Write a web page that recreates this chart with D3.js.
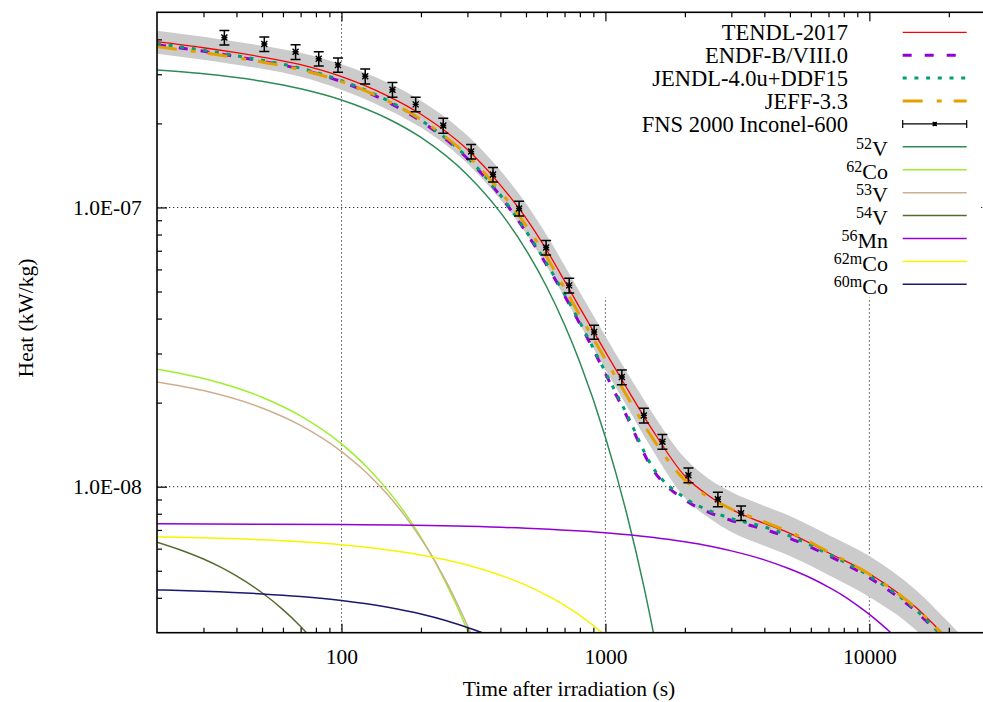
<!DOCTYPE html>
<html>
<head>
<meta charset="utf-8">
<script src="https://cdn.jsdelivr.net/npm/d3@7"></script>
<style>
  html, body { margin: 0; padding: 0; background: #fff; }
  svg { display: block; }
  text { font-family: "Liberation Serif", "Times New Roman", Times, serif; fill: #000; }
</style>
</head>
<body>
<svg id="chart" width="983" height="702" font-family="Liberation Serif, Times New Roman, Times, serif"></svg>
<script>
// ---- Calculated decay heat of Inconel-600 (kW/kg) versus cooling time (s) ----
const times = [20, 30, 40, 50, 70, 100, 150, 200, 300, 400, 500, 600, 700, 800, 1000, 1200, 1500,
               2000, 2500, 3000, 4000, 5000, 7000, 10000, 15000, 20000, 25000];

const tendl = [3.923e-7, 3.733e-7, 3.583e-7, 3.458e-7, 3.245e-7, 2.941e-7, 2.506e-7, 2.158e-7, 1.612e-7,
               1.203e-7, 9.16e-8, 7.02e-8, 5.46e-8, 4.37e-8, 3.04e-8, 2.27e-8, 1.608e-8, 1.092e-8,
               9.19e-9, 8.29e-9, 7.39e-9, 6.81e-9, 5.80e-9, 4.88e-9, 3.70e-9, 2.83e-9, 2.30e-9];
const endf = [3.826e-7, 3.626e-7, 3.467e-7, 3.341e-7, 3.127e-7, 2.822e-7, 2.385e-7, 2.037e-7, 1.497e-7,
              1.099e-7, 8.16e-8, 6.20e-8, 4.83e-8, 3.83e-8, 2.54e-8, 1.80e-8, 1.167e-8, 8.96e-9,
              8.05e-9, 7.57e-9, 7.04e-9, 6.53e-9, 5.66e-9, 4.72e-9, 3.58e-9, 2.74e-9, 2.23e-9];
const jendl = [3.858e-7, 3.656e-7, 3.494e-7, 3.368e-7, 3.153e-7, 2.845e-7, 2.413e-7, 2.055e-7, 1.509e-7,
               1.108e-7, 8.24e-8, 6.28e-8, 4.89e-8, 3.88e-8, 2.57e-8, 1.834e-8, 1.186e-8, 9.11e-9,
               8.18e-9, 7.69e-9, 7.18e-9, 6.66e-9, 5.74e-9, 4.79e-9, 3.62e-9, 2.76e-9, 2.25e-9];
const jeff = [3.764e-7, 3.583e-7, 3.438e-7, 3.318e-7, 3.114e-7, 2.822e-7, 2.405e-7, 2.064e-7, 1.535e-7,
              1.141e-7, 8.62e-8, 6.63e-8, 5.13e-8, 4.11e-8, 2.86e-8, 2.13e-8, 1.505e-8, 1.056e-8,
              9.11e-9, 8.32e-9, 7.48e-9, 6.88e-9, 5.84e-9, 4.86e-9, 3.68e-9, 2.81e-9, 2.28e-9];

// TENDL-2017 uncertainty band
const bandUpper = [4.294e-7, 4.087e-7, 3.923e-7, 3.796e-7, 3.583e-7, 3.259e-7, 2.798e-7, 2.413e-7, 1.809e-7,
                   1.356e-7, 1.033e-7, 7.94e-8, 6.20e-8, 4.97e-8, 3.46e-8, 2.59e-8, 1.849e-8, 1.266e-8,
                   1.056e-8, 9.57e-9, 8.53e-9, 7.86e-9, 6.72e-9, 5.65e-9, 4.27e-9, 3.26e-9, 2.61e-9];
const bandLower = [3.552e-7, 3.381e-7, 3.245e-7, 3.141e-7, 2.941e-7, 2.642e-7, 2.240e-7, 1.932e-7, 1.437e-7,
                   1.068e-7, 8.07e-8, 6.15e-8, 4.77e-8, 3.82e-8, 2.63e-8, 1.959e-8, 1.364e-8, 9.11e-9,
                   7.66e-9, 6.88e-9, 6.14e-9, 5.65e-9, 4.83e-9, 4.03e-9, 3.07e-9, 2.30e-9, 1.845e-9];

// FNS 2000 measurement
const expTime = [36, 51, 67, 82, 97, 123, 156, 191, 243, 310, 375, 471, 596, 729, 906, 1154, 1398, 1644,
                 2063, 2667, 3266];
const expHeat = [4.06e-7, 3.85e-7, 3.61e-7, 3.41e-7, 3.24e-7, 2.95e-7, 2.64e-7, 2.34e-7, 1.965e-7, 1.585e-7,
                 1.312e-7, 9.92e-8, 7.19e-8, 5.26e-8, 3.58e-8, 2.47e-8, 1.80e-8, 1.45e-8, 1.10e-8,
                 9.02e-9, 8.04e-9];
const expErr = [2.4e-8, 2.3e-8, 2.2e-8, 2.0e-8, 1.9e-8, 1.8e-8, 1.6e-8, 1.4e-8, 1.2e-8, 9.5e-9, 7.9e-9,
                6.0e-9, 4.3e-9, 3.2e-9, 2.1e-9, 1.5e-9, 1.1e-9, 8.7e-10, 6.6e-10, 5.4e-10, 4.8e-10];

// Contributions of individual nuclides (TENDL-2017)
const v52Time = [20, 30, 50, 70, 100, 150, 200, 300, 400, 500, 600, 700, 800, 1000, 1200, 1400, 1600];
const v52Heat = [3.107e-7, 3.012e-7, 2.832e-7, 2.662e-7, 2.427e-7, 2.079e-7, 1.782e-7, 1.308e-7, 9.60e-8,
                 7.05e-8, 5.18e-8, 3.80e-8, 2.79e-8, 1.503e-8, 8.10e-9, 4.37e-9, 2.35e-9];
const co62Time = [20, 30, 50, 70, 100, 125, 150, 175, 200, 225, 250, 275, 300, 350];
const co62Heat = [2.635e-8, 2.440e-8, 2.091e-8, 1.793e-8, 1.423e-8, 1.174e-8, 9.68e-9, 7.99e-9, 6.59e-9,
                  5.44e-9, 4.48e-9, 3.70e-9, 3.05e-9, 2.08e-9];
const v53Time = [20, 30, 50, 70, 100, 125, 150, 175, 200, 225, 250, 275, 300, 350];
const v53Heat = [2.373e-8, 2.209e-8, 1.913e-8, 1.657e-8, 1.336e-8, 1.117e-8, 9.33e-9, 7.80e-9, 6.52e-9,
                 5.45e-9, 4.55e-9, 3.80e-9, 3.18e-9, 2.22e-9];
const v54Time = [20, 25, 30, 35, 40, 50, 60, 70, 80];
const v54Heat = [6.33e-9, 5.90e-9, 5.51e-9, 5.14e-9, 4.79e-9, 4.17e-9, 3.63e-9, 3.16e-9, 2.75e-9];
const mn56Time = [20, 50, 100, 300, 500, 1000, 1500, 2000, 2500, 3000, 4000, 5000, 6000, 7000, 8000, 9000,
                  10000, 11000, 12000, 13000];
const mn56Heat = [7.36e-9, 7.34e-9, 7.32e-9, 7.21e-9, 7.10e-9, 6.84e-9, 6.59e-9, 6.35e-9, 6.12e-9, 5.89e-9,
                  5.47e-9, 5.07e-9, 4.71e-9, 4.37e-9, 4.06e-9, 3.76e-9, 3.49e-9, 3.24e-9, 3.01e-9, 2.79e-9];
const co62mTime = [20, 30, 50, 100, 150, 200, 300, 400, 500, 600, 700, 800, 900, 1000, 1100];
const co62mHeat = [6.61e-9, 6.56e-9, 6.45e-9, 6.19e-9, 5.93e-9, 5.69e-9, 5.24e-9, 4.82e-9, 4.44e-9, 4.08e-9,
                   3.76e-9, 3.46e-9, 3.18e-9, 2.93e-9, 2.70e-9];
const co60mTime = [20, 30, 50, 70, 100, 150, 200, 250, 300, 350, 400];
const co60mHeat = [4.27e-9, 4.22e-9, 4.13e-9, 4.04e-9, 3.91e-9, 3.70e-9, 3.50e-9, 3.31e-9, 3.13e-9, 2.97e-9,
                   2.81e-9];

// Axis ticks
const xMajor = [100, 1000, 10000];
const xMinor = [30, 40, 50, 60, 70, 80, 90, 200, 300, 400, 500, 600, 700, 800, 900,
                2000, 3000, 4000, 5000, 6000, 7000, 8000, 9000, 20000];
const yMajor = [1e-8, 1e-7];
const yMinor = [4e-9, 5e-9, 6e-9, 7e-9, 8e-9, 9e-9, 2e-8, 3e-8, 4e-8, 5e-8, 6e-8, 7e-8, 8e-8, 9e-8,
                2e-7, 3e-7, 4e-7];
const yTickLabels = ["1.0E-08", "1.0E-07"];

// ---- Layout ----
const W = 983, H = 702;
const L = 157, T = 12.3, R = 995.3, B = 632.7;
const FONT = '"Liberation Serif", "Times New Roman", Times, serif';
const x = d3.scaleLog().domain([20, 30000]).range([L, R]);
const y = d3.scaleLog().domain([3e-9, 5e-7]).range([B, T]);

const svg = d3.select("#chart");
svg.append("rect").attr("width", W).attr("height", H).attr("fill", "#fff");

svg.append("defs").append("clipPath").attr("id", "plotClip")
  .append("rect").attr("x", L).attr("y", T).attr("width", R - L).attr("height", B - T);

// Grid at the major ticks
const grid = svg.append("g").attr("stroke", "#333").attr("stroke-width", 1)
  .attr("stroke-dasharray", "1.3,2.7");
xMajor.forEach(v => grid.append("line")
  .attr("x1", x(v)).attr("x2", x(v)).attr("y1", T).attr("y2", B));
yMajor.forEach(v => grid.append("line")
  .attr("x1", L).attr("x2", R).attr("y1", y(v)).attr("y2", y(v)));

// Opaque key area
svg.append("rect").attr("x", 522).attr("y", T + 1).attr("width", 458).attr("height", 284)
  .attr("fill", "#fff");

const plot = svg.append("g").attr("clip-path", "url(#plotClip)");

// Uncertainty band
const bandData = times.map((t, i) => [t, bandLower[i], bandUpper[i]]);
plot.append("path")
  .datum(bandData)
  .attr("fill", "#cbcbcb")
  .attr("d", d3.area().x(d => x(d[0])).y0(d => y(d[1])).y1(d => y(d[2])).curve(d3.curveMonotoneX));

const line = d3.line().x(d => x(d[0])).y(d => y(d[1])).curve(d3.curveMonotoneX);
const zip = (a, b) => a.map((t, i) => [t, b[i]]);

const libraries = [
  { name: "TENDL-2017", data: tendl, color: "#ff0000", width: 1.3, dash: null },
  { name: "ENDF-B/VIII.0", data: endf, color: "#9400d3", width: 3, dash: "9,13" },
  { name: "JENDL-4.0u+DDF15", data: jendl, color: "#009e73", width: 3, dash: "4,7.7" },
  { name: "JEFF-3.3", data: jeff, color: "#e69f00", width: 3, dash: "20,14,5,12" }
];

const nuclides = [
  { mass: "52", el: "V", t: v52Time, h: v52Heat, color: "#2e8b57" },
  { mass: "62", el: "Co", t: co62Time, h: co62Heat, color: "#9cf02e" },
  { mass: "53", el: "V", t: v53Time, h: v53Heat, color: "#cfae90" },
  { mass: "54", el: "V", t: v54Time, h: v54Heat, color: "#556b2f" },
  { mass: "56", el: "Mn", t: mn56Time, h: mn56Heat, color: "#9400d3" },
  { mass: "62m", el: "Co", t: co62mTime, h: co62mHeat, color: "#f5f500" },
  { mass: "60m", el: "Co", t: co60mTime, h: co60mHeat, color: "#191970" }
];

libraries.forEach(lib => {
  plot.append("path")
    .datum(zip(times, lib.data))
    .attr("fill", "none")
    .attr("stroke", lib.color)
    .attr("stroke-width", lib.width)
    .attr("stroke-dasharray", lib.dash)
    .attr("d", line);
});

// Measured points with error bars
function drawMarker(g, cx, cy, s) {
  g.append("path")
    .attr("d", `M${cx - s},${cy}H${cx + s}M${cx},${cy - s}V${cy + s}` +
               `M${cx - s},${cy - s}L${cx + s},${cy + s}M${cx - s},${cy + s}L${cx + s},${cy - s}`)
    .attr("stroke", "#000").attr("stroke-width", 1.4).attr("fill", "none");
}
const expG = plot.append("g");
expTime.forEach((t, i) => {
  const cx = x(t), v = expHeat[i], e = expErr[i];
  const y1 = y(v + e), y2 = y(v - e);
  expG.append("path")
    .attr("d", `M${cx},${y1}V${y2}M${cx - 5},${y1}H${cx + 5}M${cx - 5},${y2}H${cx + 5}`)
    .attr("stroke", "#000").attr("stroke-width", 1.5).attr("fill", "none");
  drawMarker(expG, cx, y(v), 3);
});

nuclides.forEach(n => {
  plot.append("path")
    .datum(zip(n.t, n.h))
    .attr("fill", "none")
    .attr("stroke", n.color)
    .attr("stroke-width", 1.5)
    .attr("d", line);
});

// ---- Axes ----
function styleAxis(g) {
  g.select(".domain").remove();
  g.selectAll("line").attr("stroke", "#000").attr("stroke-width", 1.2);
  g.attr("font-family", FONT).attr("font-size", null);
  g.selectAll("text").style("font-size", "21.5px").style("font-family", FONT).attr("fill", "#000");
}
svg.append("g").attr("transform", `translate(0,${B})`)
  .call(d3.axisBottom(x).tickValues(xMinor).tickSize(-5).tickFormat(""))
  .call(styleAxis);
svg.append("g").attr("transform", `translate(0,${B})`)
  .call(d3.axisBottom(x).tickValues(xMajor).tickSize(-9).tickPadding(16).tickFormat(d3.format("d")))
  .call(styleAxis);
svg.append("g").attr("transform", `translate(0,${T})`)
  .call(d3.axisTop(x).tickValues(xMinor).tickSize(-5).tickFormat(""))
  .call(styleAxis);
svg.append("g").attr("transform", `translate(0,${T})`)
  .call(d3.axisTop(x).tickValues(xMajor).tickSize(-9).tickFormat(""))
  .call(styleAxis);
svg.append("g").attr("transform", `translate(${L},0)`)
  .call(d3.axisLeft(y).tickValues(yMinor).tickSize(-5).tickFormat(""))
  .call(styleAxis);
svg.append("g").attr("transform", `translate(${L},0)`)
  .call(d3.axisLeft(y).tickValues(yMajor).tickSize(-10).tickPadding(15.3)
    .tickFormat((d, i) => yTickLabels[i]))
  .call(styleAxis);

// Frame
svg.append("rect").attr("x", L).attr("y", T).attr("width", R - L).attr("height", B - T)
  .attr("fill", "none").attr("stroke", "#000").attr("stroke-width", 1.6);

// Axis titles
svg.append("text").attr("x", 569).attr("y", 696).attr("text-anchor", "middle")
  .style("font-family", FONT).style("font-size", "21.5px").text("Time after irradiation (s)");
svg.append("text").attr("transform", "translate(33,318) rotate(-90)").attr("text-anchor", "middle")
  .style("font-family", FONT).style("font-size", "21.5px").text("Heat (kW/kg)");

// ---- Key ----
const key = svg.append("g");
const rowY = i => 32.3 + 22.91 * i;
const kx1 = 902.7, kx2 = 966.7;
libraries.forEach((lib, i) => {
  const ry = rowY(i);
  key.append("text").attr("x", 848).attr("y", ry + 7.7).attr("text-anchor", "end")
    .style("font-family", FONT).style("font-size", "22.5px").text(lib.name);
  key.append("line").attr("x1", kx1).attr("x2", kx2).attr("y1", ry).attr("y2", ry)
    .attr("stroke", lib.color).attr("stroke-width", lib.width).attr("stroke-dasharray", lib.dash);
});
{
  const ry = rowY(4);
  key.append("text").attr("x", 848).attr("y", ry + 7.7).attr("text-anchor", "end")
    .style("font-family", FONT).style("font-size", "22.5px").text("FNS 2000 Inconel-600");
  key.append("path")
    .attr("d", `M${kx1},${ry}H${kx2}M${kx1},${ry - 4}V${ry + 4}M${kx2},${ry - 4}V${ry + 4}`)
    .attr("stroke", "#000").attr("stroke-width", 1.2).attr("fill", "none");
  drawMarker(key, (kx1 + kx2) / 2, ry, 2);
}
nuclides.forEach((n, j) => {
  const ry = rowY(5 + j);
  const t = key.append("text").attr("x", 888).attr("y", ry + 9.5).attr("text-anchor", "end")
    .style("font-family", FONT).style("font-size", "22px");
  t.append("tspan").attr("dy", -7).style("font-size", "16px").text(n.mass);
  t.append("tspan").attr("dy", 7).text(n.el);
  key.append("line").attr("x1", kx1).attr("x2", kx2).attr("y1", ry).attr("y2", ry)
    .attr("stroke", n.color).attr("stroke-width", 1.5);
});
</script>
</body>
</html>
